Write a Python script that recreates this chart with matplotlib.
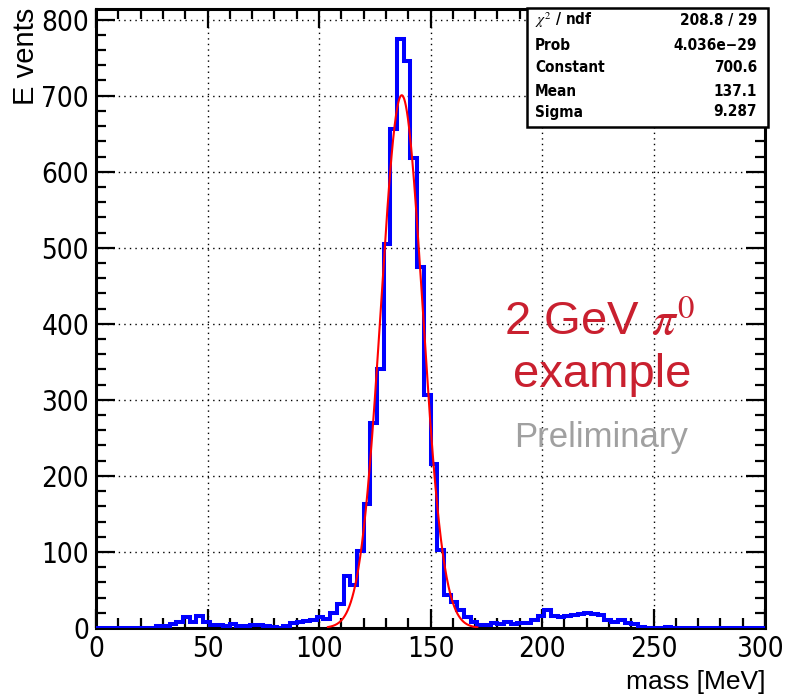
import numpy as np
import matplotlib.pyplot as plt
import matplotlib.transforms as mtransforms
from matplotlib.patches import Rectangle
from matplotlib.ticker import MultipleLocator

# histogram: 3 MeV bins from 0 to 300
bin_edges = np.arange(0, 303, 3)
counts = [
    0, 0, 0, 0, 0, 0, 0, 0, 0, 2,
    2, 5, 8, 15, 8, 16, 8, 4, 4, 3,
    5, 3, 2, 4, 4, 3, 1, 0, 3, 7,
    8, 9, 11, 14, 12, 20, 32, 68, 56, 101,
    163, 270, 341, 505, 656, 775, 745, 618, 475, 307,
    216, 102, 43, 34, 24, 14, 8, 4, 4, 7,
    5, 8, 5, 7, 7, 11, 16, 24, 16, 15,
    16, 17, 18, 20, 19, 17, 11, 8, 10, 7,
    5, 1, 0, 0, 0, 1, 0, 0, 0, 0,
    0, 0, 0, 0, 0, 0, 0, 0, 0, 0,
]

# gaussian fit result
fit_const = 700.6
fit_mean = 137.1
fit_sigma = 9.287
fit_range = (104, 171)

stat_labels = ["$\\chi^2$ / ndf", "Prob", "Constant", "Mean", "Sigma"]
stat_values = ["208.8 / 29", "4.036e\u221229", "700.6", "137.1", "9.287"]

plt.rcParams['mathtext.fontset'] = 'stix'

fig = plt.figure(figsize=(7.87, 6.95), dpi=100)
ax = fig.add_axes([96 / 787, 1 - 628 / 695, (765 - 96) / 787, (628 - 9) / 695])

ax.stairs(counts, bin_edges, color='#0000ff', lw=2.9, zorder=3)
xf = np.linspace(fit_range[0], fit_range[1], 400)
yf = fit_const * np.exp(-0.5 * ((xf - fit_mean) / fit_sigma) ** 2)
ax.plot(xf, yf, color='#ff0000', lw=1.5, zorder=4)

ax.set_xlim(0, 300)
ax.set_ylim(0, 814)
ax.xaxis.set_major_locator(MultipleLocator(50))
ax.xaxis.set_minor_locator(MultipleLocator(10))
ax.yaxis.set_major_locator(MultipleLocator(100))
ax.yaxis.set_minor_locator(MultipleLocator(20))
ax.grid(True, which='major', color='black', ls=(0, (1, 3)), lw=1.0)
ax.tick_params(which='both', direction='in', top=True, right=True, width=1.6)
ax.tick_params(which='major', length=14, pad=5)
ax.tick_params(which='minor', length=7)
for sp in ax.spines.values():
    sp.set_linewidth(2.2)

for lab in ax.get_xticklabels() + ax.get_yticklabels():
    lab.set_family('DejaVu Sans')
    lab.set_stretch('condensed')
    lab.set_fontsize(20)

# keep the last x label inside the picture
fig.canvas.draw()
last = [t for t in ax.get_xticklabels() if t.get_text() == '300'][0]
last.set_transform(last.get_transform() +
                   mtransforms.ScaledTranslation(-5 / 100, 0, fig.dpi_scale_trans))

fig.text(765 / 787, 1 - 694 / 695, "mass [MeV]", ha='right', va='bottom',
         fontsize=19, family='Liberation Sans')
fig.text(26 / 787, 1 - 8 / 695, "E vents", rotation=90, ha='center', va='top',
         fontsize=21, family='Liberation Sans')

# stats box
fig.patches.append(Rectangle((527 / 787, 1 - 127 / 695), 241 / 787, 119 / 695,
                             transform=fig.transFigure, facecolor='white',
                             edgecolor='black', lw=1.8, zorder=10))
rows_y = [20, 45, 68, 91, 112]
for lbl, val, yy in zip(stat_labels, stat_values, rows_y):
    fig.text(535 / 787, 1 - yy / 695, lbl, ha='left', va='center', fontsize=11,
             family='DejaVu Sans', stretch='condensed', weight='bold', zorder=11)
    fig.text(757 / 787, 1 - yy / 695, val, ha='right', va='center', fontsize=11,
             family='DejaVu Sans', stretch='condensed', weight='bold', zorder=11)

red = '#c9202f'
fig.text(600 / 787, 1 - 335 / 695, "2 GeV $\\pi^0$", ha='center',
         va='baseline', fontsize=34, color=red, family='Liberation Sans')
fig.text(602 / 787, 1 - 387 / 695, "example", ha='center', va='baseline',
         fontsize=34, color=red, family='Liberation Sans')
fig.text(601 / 787, 1 - 447 / 695, "Preliminary", ha='center', va='baseline',
         fontsize=25, color='#a0a0a0', family='Liberation Sans')

fig.savefig("out.png", dpi=100)
